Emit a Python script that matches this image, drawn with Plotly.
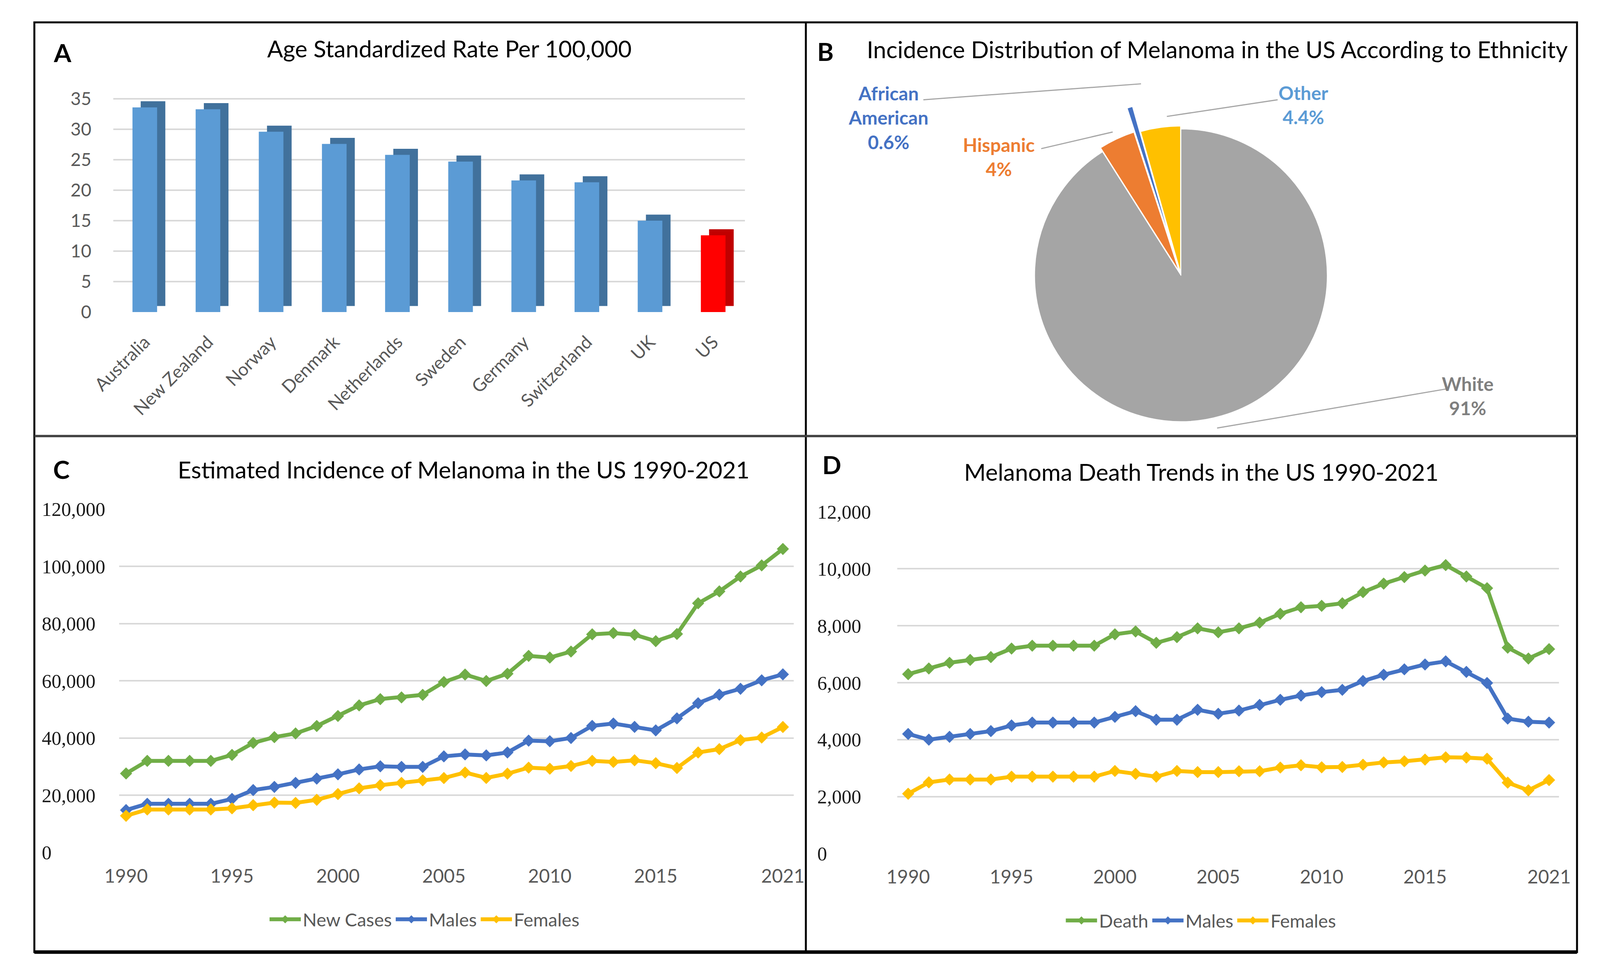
import plotly.graph_objects as go

W, H = 4404, 2499

# A: age standardized rate per 100,000
countries = ["Australia", "New Zealand", "Norway", "Denmark", "Netherlands",
             "Sweden", "Germany", "Switzerland", "UK", "US"]
asr = [33.6, 33.3, 29.6, 27.6, 25.8, 24.7, 21.6, 21.3, 15.0, 12.6]
asr_ticks = [0, 5, 10, 15, 20, 25, 30, 35]

# B: incidence by ethnicity (%)
ethnic = ["White", "Hispanic", "African American", "Other"]
ethnic_share = [91, 4, 0.6, 4.4]

# C / D: yearly estimates
years = list(range(1990, 2022))
new_cases = [27600, 32000, 32000, 32000, 32000, 34100, 38300, 40300, 41600, 44200,
             47700, 51400, 53600, 54200, 55100, 59580, 62190, 59940, 62480, 68720,
             68130, 70230, 76250, 76690, 76100, 73870, 76380, 87110, 91270, 96480,
             100350, 106110]
inc_males = [14800, 17000, 17000, 17000, 17000, 18700, 21800, 22900, 24300, 25800,
             27300, 29000, 30100, 29900, 29900, 33580, 34260, 33910, 34950, 39080,
             38870, 40010, 44250, 45060, 43890, 42670, 46870, 52170, 55150, 57220,
             60190, 62260]
inc_females = [12800, 15000, 15000, 15000, 15000, 15400, 16500, 17400, 17300, 18400,
               20400, 22400, 23500, 24300, 25200, 26000, 27930, 26030, 27530, 29640,
               29260, 30220, 32000, 31630, 32210, 31200, 29510, 34940, 36120, 39260,
               40160, 43850]
deaths = [6300, 6500, 6700, 6800, 6900, 7200, 7300, 7300, 7300, 7300,
          7700, 7800, 7400, 7600, 7910, 7770, 7910, 8110, 8420, 8650,
          8700, 8790, 9180, 9480, 9710, 9940, 10130, 9730, 9320, 7230,
          6850, 7180]
death_males = [4200, 4000, 4100, 4200, 4300, 4500, 4600, 4600, 4600, 4600,
               4800, 5000, 4700, 4700, 5050, 4910, 5020, 5220, 5400, 5550,
               5670, 5750, 6060, 6280, 6470, 6640, 6750, 6380, 5990, 4740,
               4630, 4600]
death_females = [2100, 2500, 2600, 2600, 2600, 2700, 2700, 2700, 2700, 2700,
                 2900, 2800, 2700, 2900, 2860, 2860, 2890, 2890, 3020, 3100,
                 3030, 3040, 3120, 3200, 3240, 3300, 3380, 3370, 3330, 2490,
                 2220, 2580]

year_ticks = [1990, 1995, 2000, 2005, 2010, 2015, 2021]
inc_ticks = [0, 20000, 40000, 60000, 80000, 100000, 120000]
death_ticks = [0, 2000, 4000, 6000, 8000, 10000, 12000]

SANS = "Lato, Open Sans, sans-serif"
SERIF = "Liberation Serif, DejaVu Serif, serif"
GREY_TXT = "#595959"
GRID = "#D9D9D9"
GREEN, BLUE, GOLD = "#70AD47", "#4472C4", "#FFC000"


def px(x, y):
    # pixel position in the reference -> paper coords
    return x / W, 1 - y / H


def padded(vals):
    # left aligned look: pad right with figure / punctuation spaces
    labels = [f"{v:,}" for v in vals]
    nd = max(sum(c.isdigit() for c in s) for s in labels)
    nc = max(s.count(",") for s in labels)
    out = []
    for s in labels:
        d = nd - sum(c.isdigit() for c in s)
        c = nc - s.count(",")
        out.append(s + "\u2007" * d + "\u2008" * c)
    return out


fig = go.Figure()

# ---- A: pseudo 3D bars (dark side drawn first, front face on top)
front = ["#5B9BD5"] * (len(countries) - 1) + ["#FF0000"]
side = ["#41719C"] * (len(countries) - 1) + ["#C00000"]
fig.add_trace(go.Bar(x=countries, y=asr, base=1.0, width=0.39, offset=-0.065,
                     marker=dict(color=side, line=dict(width=0)),
                     showlegend=False, hoverinfo="skip", xaxis="x", yaxis="y"))
fig.add_trace(go.Bar(x=countries, y=asr, width=0.39, offset=-0.195,
                     marker=dict(color=front, line=dict(width=0)),
                     showlegend=False, xaxis="x", yaxis="y"))

# ---- B: pie
fig.add_trace(go.Pie(labels=ethnic, values=ethnic_share, sort=False,
                     direction="clockwise", rotation=0,
                     marker=dict(colors=["#A5A5A5", "#ED7D31", BLUE, GOLD],
                                 line=dict(color="white", width=2)),
                     pull=[0, 0.03, 0.2, 0.02], textinfo="none",
                     domain=dict(x=[0.628, 0.8533], y=[0.5258, 0.9228]),
                     showlegend=False))

# ---- C and D: lines
for name, ys, col in [("New Cases", new_cases, GREEN), ("Males", inc_males, BLUE),
                      ("Females", inc_females, GOLD)]:
    fig.add_trace(go.Scatter(x=years, y=ys, name=name, mode="lines+markers",
                             line=dict(color=col, width=10),
                             marker=dict(symbol="diamond", size=24, color=col),
                             xaxis="x2", yaxis="y2", legend="legend"))
for name, ys, col in [("Death", deaths, GREEN), ("Males", death_males, BLUE),
                      ("Females", death_females, GOLD)]:
    fig.add_trace(go.Scatter(x=years, y=ys, name=name, mode="lines+markers",
                             line=dict(color=col, width=10),
                             marker=dict(symbol="diamond", size=24, color=col),
                             xaxis="x3", yaxis="y3", legend="legend2"))

tick_grey = dict(family=SANS, size=48, color=GREY_TXT)
fig.update_layout(
    autosize=True,
    margin=dict(l=0, r=0, t=0, b=0),
    paper_bgcolor="white", plot_bgcolor="white",
    barmode="overlay",
    font=dict(family=SANS, color=GREY_TXT),
    xaxis=dict(domain=[0.0556, 0.4608], range=[-0.5, 9.5], tickangle=-45,
               tickfont=dict(family=SANS, size=46, color=GREY_TXT),
               ticklabelstandoff=40, showgrid=False, showline=False,
               ticks="", anchor="y"),
    yaxis=dict(domain=[0.6855, 0.924], range=[0, 37.1], tickvals=asr_ticks,
               tickfont=dict(family=SANS, size=46, color=GREY_TXT),
               ticklabelstandoff=55, showgrid=True, gridcolor=GRID, gridwidth=4,
               zeroline=False, showline=False, ticks="", anchor="x"),
    xaxis2=dict(domain=[0.0593, 0.4923], range=[1989.666, 2021.518],
                tickvals=year_ticks, tickfont=tick_grey, ticklabelstandoff=28,
                showgrid=False, showline=False, zeroline=False, ticks="",
                anchor="y2"),
    yaxis2=dict(domain=[0.1152, 0.4774], range=[0, 120000], tickvals=inc_ticks,
                ticktext=padded(inc_ticks),
                tickfont=dict(family=SERIF, size=50, color="#1a1a1a"),
                ticklabelstandoff=34, showgrid=True, gridcolor=GRID, gridwidth=4,
                zeroline=False, showline=False, ticks="", anchor="x2"),
    xaxis3=dict(domain=[0.5586, 0.9832], range=[1989.469, 2021.479],
                tickvals=year_ticks, tickfont=tick_grey, ticklabelstandoff=28,
                showgrid=False, showline=False, zeroline=False, ticks="",
                anchor="y3"),
    yaxis3=dict(domain=[0.1140, 0.4746], range=[0, 12000], tickvals=death_ticks,
                ticktext=padded(death_ticks),
                tickfont=dict(family=SERIF, size=50, color="#1a1a1a"),
                ticklabelstandoff=66, showgrid=True, gridcolor=GRID, gridwidth=4,
                zeroline=False, showline=False, ticks="", anchor="x3"),
    legend=dict(orientation="h", x=0.2554, y=0.0444, xanchor="center",
                yanchor="middle", font=dict(family=SANS, size=47, color=GREY_TXT),
                itemwidth=80, bgcolor="rgba(0,0,0,0)"),
    legend2=dict(orientation="h", x=0.7535, y=0.0432, xanchor="center",
                 yanchor="middle", font=dict(family=SANS, size=47, color=GREY_TXT),
                 itemwidth=80, bgcolor="rgba(0,0,0,0)"),
)

# titles and panel letters
titles = [
    ("Age Standardized Rate Per 100,000", 1195, 91),
    ("Incidence Distribution of Melanoma in the US According to Ethnicity", 3364, 93),
    ("Estimated Incidence of Melanoma in the US 1990-2021", 1235, 1201),
    ("Melanoma Death Trends in the US 1990-2021", 3320, 1207),
]
for text, x, y in titles:
    ax, ay = px(x, y)
    fig.add_annotation(text=text, x=ax, y=ay, xref="paper", yref="paper",
                       showarrow=False, xanchor="center", yanchor="middle",
                       font=dict(family=SANS, size=60, color="#000000"))
for letter, x, y in [("A", 101, 101), ("B", 2257, 98), ("C", 98, 1201), ("D", 2275, 1188)]:
    ax, ay = px(x, y)
    fig.add_annotation(text=f"<b>{letter}</b>", x=ax, y=ay, xref="paper", yref="paper",
                       showarrow=False, xanchor="center", yanchor="middle",
                       font=dict(family=SANS, size=64, color="#000000"))

# pie labels with leader lines
pie_labels = [
    ("African<br>American<br>0.6%", 2435, 273, BLUE, (2534, 226), (3149, 184)),
    ("Hispanic<br>4%", 2747, 377, "#ED7D31", (2867, 355), (3069, 311)),
    ("Other<br>4.4%", 3608, 239, "#5B9BD5", (3535, 226), (3222, 270)),
    ("White<br>91%", 4072, 1007, "#7F7F7F", (4010, 989), (3364, 1092)),
]
for text, x, y, col, p0, p1 in pie_labels:
    ax, ay = px(x, y)
    fig.add_annotation(text=f"<b>{text}</b>", x=ax, y=ay, xref="paper", yref="paper",
                       showarrow=False, xanchor="center", yanchor="middle",
                       font=dict(family=SANS, size=48, color=col))
    x0, y0 = px(*p0)
    x1, y1 = px(*p1)
    fig.add_shape(type="line", xref="paper", yref="paper", x0=x0, y0=y0, x1=x1, y1=y1,
                  line=dict(color="#A6A6A6", width=3))

# panel frame
fl, ft = px(22, 22)
fr, fb = px(4381, 2474)
fig.add_shape(type="rect", xref="paper", yref="paper", x0=fl, y0=fb, x1=fr, y1=ft,
              line=dict(color="#000000", width=5))
vx = px(2202, 0)[0]
fig.add_shape(type="line", xref="paper", yref="paper", x0=vx, y0=fb, x1=vx, y1=ft,
              line=dict(color="#000000", width=5))
hy = px(0, 1113)[1]
fig.add_shape(type="line", xref="paper", yref="paper", x0=fl, y0=hy, x1=fr, y1=hy,
              line=dict(color="#404040", width=6))
fig.add_shape(type="line", xref="paper", yref="paper", x0=fl, y0=fb, x1=fr, y1=fb,
              line=dict(color="#000000", width=9))

fig.write_html("out.html")
